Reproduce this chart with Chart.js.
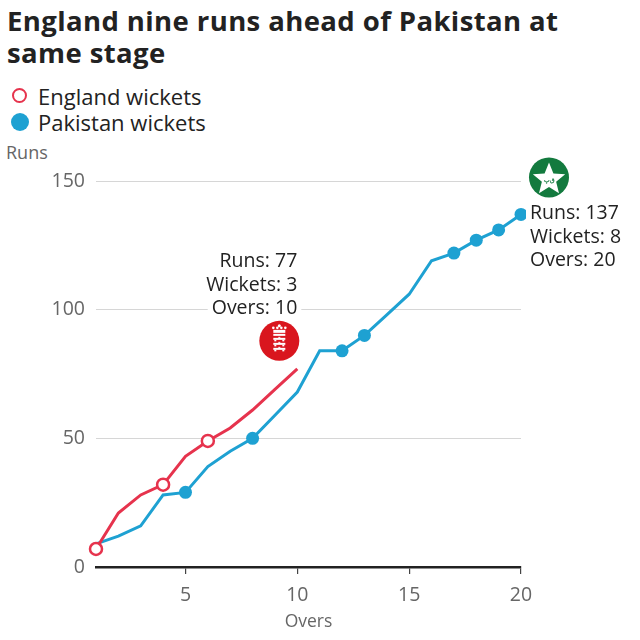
<!DOCTYPE html>
<html><head><meta charset="utf-8">
<script src="https://cdn.jsdelivr.net/npm/chart.js@4"></script>
<style>
html,body{margin:0;padding:0;background:#fff;}
#wrap{position:relative;width:640px;height:640px;font-family:"Open Sans",sans-serif;color:#222;}
#title{position:absolute;left:7px;top:5px;width:580px;font-weight:700;font-size:27.5px;line-height:32px;color:#222;letter-spacing:0.4px}
.leg{position:absolute;left:38px;font-size:22px;line-height:26px;color:#222;}
.mk{position:absolute;left:12px;width:15px;height:15px;border-radius:50%;box-sizing:border-box;}
#runs{position:absolute;left:6px;top:140px;font-size:18px;color:#666;line-height:24px}
canvas{position:absolute;left:0;top:0}
</style></head>
<body><div id="wrap">
<div id="title">England nine runs ahead of Pakistan at same stage</div>
<div class="mk" style="top:88px;border:2.5px solid #e6334d;background:#fff"></div>
<div class="leg" style="top:83px">England wickets</div>
<div class="mk" style="top:113px;width:18px;height:18px;left:11px;background:#1ea1d2"></div>
<div class="leg" style="top:109px">Pakistan wickets</div>
<div id="runs">Runs</div>
<canvas id="c" width="640" height="640"></canvas>
</div>
<script>
const overs = [1,2,3,4,5,6,7,8,9,10,11,12,13,14,15,16,17,18,19,20];
const englandRuns = [7,21,28,32,43,49,54,61,69,77];
const pakistanRuns = [9,12,16,28,29,39,45,50,59,68,84,84,90,98,106,119,122,127,131,137];
const englandWicketOvers = [1,4,6];
const pakistanWicketOvers = [5,8,12,13,17,18,19,20];
const xTickValues = [5,10,15,20];
const yTickValues = [0,50,100,150];
const englandLabel = ["Runs: 77","Wickets: 3","Overs: 10"];
const pakistanLabel = ["Runs: 137","Wickets: 8","Overs: 20"];

const FONT = '"Open Sans", sans-serif';
const ENG = '#e6334d', PAK = '#1ea1d2';

const engData = englandRuns.map((r,i)=>({x:overs[i],y:r}));
const pakData = pakistanRuns.map((r,i)=>({x:overs[i],y:r}));

function drawEngland(ctx,cx,cy,r){
  ctx.save();
  ctx.fillStyle='#d9161e';
  ctx.beginPath();ctx.arc(cx,cy,r,0,Math.PI*2);ctx.fill();
  ctx.fillStyle='#fff';
  ctx.fillRect(cx-6,cy-11,12,3);
  for(const dx of [-6,-2,2,6]){ctx.beginPath();ctx.arc(cx+dx,cy-13,1.3,0,Math.PI*2);ctx.fill();}
  ctx.beginPath();ctx.arc(cx,cy-15,1.5,0,Math.PI*2);ctx.fill();
  ctx.fillRect(cx-6,cy-7,12,2);
  for(let k=0;k<3;k++){
    const yy=cy-3+k*5;
    ctx.fillRect(cx-6,yy,12,2);
    ctx.fillRect(cx-5,yy+2,2,1.5);ctx.fillRect(cx+3,yy+2,2,1.5);
    ctx.fillRect(cx-1,yy-1,2,1);
  }
  ctx.restore();
}
function drawPakistan(ctx,cx,cy,r){
  ctx.save();
  ctx.fillStyle='#137a3e';
  ctx.beginPath();ctx.arc(cx,cy,r,0,Math.PI*2);ctx.fill();
  ctx.fillStyle='#fff';
  ctx.beginPath();
  const R=17, ri=7.5;
  for(let i=0;i<10;i++){
    const a=-Math.PI/2+i*Math.PI/5;
    const rr=i%2===0?R:ri;
    const px=cx+rr*Math.cos(a), py=cy+2+rr*Math.sin(a);
    i===0?ctx.moveTo(px,py):ctx.lineTo(px,py);
  }
  ctx.closePath();ctx.fill();
  ctx.fillStyle='#137a3e';
  ctx.font='bold 6px '+FONT;ctx.textAlign='center';ctx.textBaseline='middle';
  ctx.fillText('ق\u200cپ',cx,cy+3);
  ctx.restore();
}
function drawLabel(ctx,lines,x,yc,align){
  ctx.save();
  ctx.font='19.5px '+FONT;
  ctx.textAlign=align;ctx.textBaseline='middle';
  lines.forEach((t,i)=>{
    const w=ctx.measureText(t).width;
    const yy=yc+i*23.5;
    ctx.fillStyle='#fff';
    const lx = align==='right'? x-w-4 : x-4;
    ctx.fillRect(lx,yy-11,w+8,22);
    ctx.fillStyle='#222';
    ctx.fillText(t,x,yy);
  });
  ctx.restore();
}

const annot = {
  id:'annot',
  afterDatasetsDraw(chart){
    const {ctx,scales:{x,y}}=chart;
    const ex=x.getPixelForValue(overs[englandRuns.length-1]), ey=y.getPixelForValue(englandRuns[englandRuns.length-1]);
    drawLabel(ctx,englandLabel,ex,ey-107,'right');
    drawEngland(ctx,ex-18,ey-28,20);
    const px=x.getPixelForValue(overs[pakistanRuns.length-1]), py=y.getPixelForValue(pakistanRuns[pakistanRuns.length-1]);
    drawPakistan(ctx,px+28,py-37,20);
    drawLabel(ctx,pakistanLabel,px+9,py-1,'left');
  }
};

new Chart(document.getElementById('c'),{
  type:'line',
  data:{datasets:[
    {label:'England',data:engData,borderColor:ENG,borderWidth:3,fill:false,tension:0,
     pointRadius:c=>englandWicketOvers.includes(c.raw.x)?6:0,
     pointBackgroundColor:'#fff',pointBorderColor:ENG,pointBorderWidth:2.5,clip:false},
    {label:'Pakistan',data:pakData,borderColor:PAK,borderWidth:3,fill:false,tension:0,
     pointRadius:c=>pakistanWicketOvers.includes(c.raw.x)?6.5:0,
     pointBackgroundColor:PAK,pointBorderColor:PAK,pointBorderWidth:0,clip:false}
  ]},
  options:{
    responsive:false,animation:false,events:[],
    layout:{padding:{left:0,top:181,right:119,bottom:0}},
    plugins:{legend:{display:false},tooltip:{enabled:false}},
    scales:{
      x:{type:'linear',min:1,max:20,
        afterBuildTicks:s=>{s.ticks=xTickValues.map(v=>({value:v}));},
        afterFit:s=>{s.height=73;},
        grid:{drawOnChartArea:false,drawTicks:true,tickLength:7,color:'#444',lineWidth:1.2},
        border:{display:true,color:'#222',width:2.5},
        ticks:{color:'#666',font:{family:FONT,size:19.5},padding:10,maxRotation:0},
        title:{display:true,text:'Overs',color:'#666',font:{family:FONT,size:17.5},padding:{top:0,bottom:7}}
      },
      y:{min:0,max:150,
        afterBuildTicks:s=>{s.ticks=yTickValues.map(v=>({value:v}));},
        afterFit:s=>{s.width=96;},
        grid:{drawTicks:false,color:c=>c.tick&&c.tick.value===0?'rgba(0,0,0,0)':'#d6d6d6',lineWidth:1},
        border:{display:false},
        ticks:{color:'#666',font:{family:FONT,size:19.5},padding:11}
      }
    }
  },
  plugins:[annot]
});
</script>
</body></html>
